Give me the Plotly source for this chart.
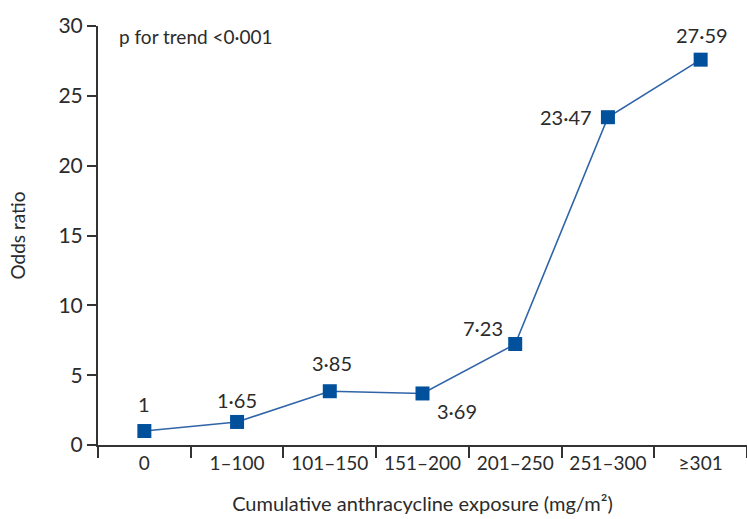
import plotly.graph_objects as go

categories = ["0", "1–100", "101–150", "151–200", "201–250", "251–300", "≥301"]
odds_ratio = [1, 1.65, 3.85, 3.69, 7.23, 23.47, 27.59]
value_labels = ["1", "1·65", "3·85", "3·69", "7·23", "23·47", "27·59"]
label_shifts = [(0, 27), (0, 22), (2, 28), (34, -18), (-32, 16), (-42, 0), (1, 25)]
y_ticks = [0, 5, 10, 15, 20, 25, 30]

FONT = "Lato"
TXT = "#2b2b2b"

fig = go.Figure()
fig.add_trace(go.Scatter(
    x=categories, y=odds_ratio, mode="lines+markers",
    line=dict(color="#2f64a8", width=1.6),
    marker=dict(symbol="square", size=14, color="#00509c"),
    hoverinfo="skip", showlegend=False,
))

for cat, val, lab, (dx, dy) in zip(categories, odds_ratio, value_labels, label_shifts):
    fig.add_annotation(x=cat, y=val, xref="x", yref="y", text=lab, showarrow=False,
                       xshift=dx, yshift=dy, font=dict(family=FONT, size=20, color=TXT))

fig.add_annotation(x=0.03, y=0.976, xref="paper", yref="paper", xanchor="left", yanchor="middle",
                   text="p for trend <0·001", showarrow=False,
                   font=dict(family=FONT, size=19, color=TXT))

fig.update_layout(
    width=747, height=519,
    margin=dict(l=98, r=0, t=26, b=74),
    paper_bgcolor="white", plot_bgcolor="white",
    font=dict(family=FONT, size=18, color=TXT),
)
fig.update_xaxes(
    type="category", range=[-0.5, 6.5], tickson="boundaries",
    ticks="outside", ticklen=11, tickwidth=2, tickcolor="#333",
    showline=True, linewidth=2, linecolor="#333", showgrid=False,
    tickfont=dict(family=FONT, size=19, color=TXT),
    title=dict(text="Cumulative anthracycline exposure (mg/m²)", standoff=24,
               font=dict(family=FONT, size=20, color=TXT)),
)
fig.update_yaxes(
    range=[0, 30], tickvals=y_ticks, ticks="outside", ticklen=9, tickwidth=2, tickcolor="#333",
    showline=True, linewidth=2, linecolor="#333", showgrid=False, zeroline=False,
    tickfont=dict(family=FONT, size=21, color=TXT),
    title=dict(text="Odds ratio", standoff=28, font=dict(family=FONT, size=19, color=TXT)),
)

fig.write_html("out.html")
